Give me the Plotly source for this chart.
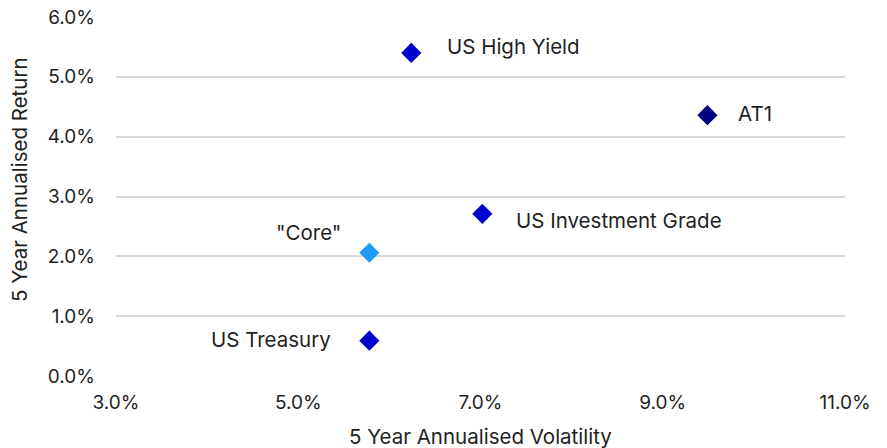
import plotly.graph_objects as go

names = ["US High Yield", "AT1", "US Investment Grade", '"Core"', "US Treasury"]
volatility = [6.24, 9.49, 7.02, 5.78, 5.78]
returns = [5.40, 4.36, 2.71, 2.06, 0.59]
colors = ["#0000CC", "#000080", "#0000CC", "#1E9CF5", "#0000CC"]
x_ticks = [3, 5, 7, 9, 11]
y_ticks = [0, 1, 2, 3, 4, 5, 6]
x_title = "5 Year Annualised Volatility"
y_title = "5 Year Annualised Return"

# label placement per point: (xanchor, xshift, yshift)
label_pos = [("left", 34, 6), ("left", 29, 2), ("left", 32, -7), ("center", -61, 20), ("right", -36, 1)]

FONT = "Inter, Roboto, sans-serif"
TXT = "#1f1f1f"

fig = go.Figure()
fig.add_trace(go.Scatter(
    x=volatility, y=returns, mode="markers",
    marker=dict(symbol="diamond", size=15.5, color=colors),
    hoverinfo="text", text=names, showlegend=False,
))

for n, xv, yv, (xa, xs, ys) in zip(names, volatility, returns, label_pos):
    fig.add_annotation(x=xv, y=yv, text=n, showarrow=False, xanchor=xa, yanchor="middle",
                       xshift=xs, yshift=ys, font=dict(family=FONT, size=20.5, color=TXT))

# axis titles
fig.add_annotation(xref="paper", yref="paper", x=0.5, y=0, text=x_title, showarrow=False,
                   xanchor="center", yanchor="middle", yshift=-60,
                   font=dict(family=FONT, size=20.5, color=TXT))
fig.add_annotation(xref="paper", yref="paper", x=0, y=0.546, text=y_title, showarrow=False,
                   textangle=-90, xanchor="center", yanchor="middle", xshift=-96,
                   font=dict(family=FONT, size=20.5, color=TXT))

# page body has an 8px default margin: size the figure so the plot lands where the reference has it
fig.update_layout(
    width=879, height=440,
    margin=dict(l=108, r=42, t=9, b=72, autoexpand=False),
    paper_bgcolor="white", plot_bgcolor="white",
    font=dict(family=FONT, size=19, color=TXT),
    xaxis=dict(range=[3, 11], tickvals=x_ticks, ticktext=[f"{v:.1f}%" for v in x_ticks],
               showgrid=False, zeroline=False, showline=False, ticks="", ticklabelstandoff=13,
               automargin=False, ticklabeloverflow="allow"),
    yaxis=dict(range=[0, 6], tickvals=y_ticks, ticktext=[f"{v:.1f}%" for v in y_ticks],
               showgrid=True, gridcolor="#d9d9d9", gridwidth=1.5, zeroline=False, showline=False,
               ticks="", ticklabelstandoff=20, automargin=False, ticklabeloverflow="allow"),
)

fig.write_html("out.html")
